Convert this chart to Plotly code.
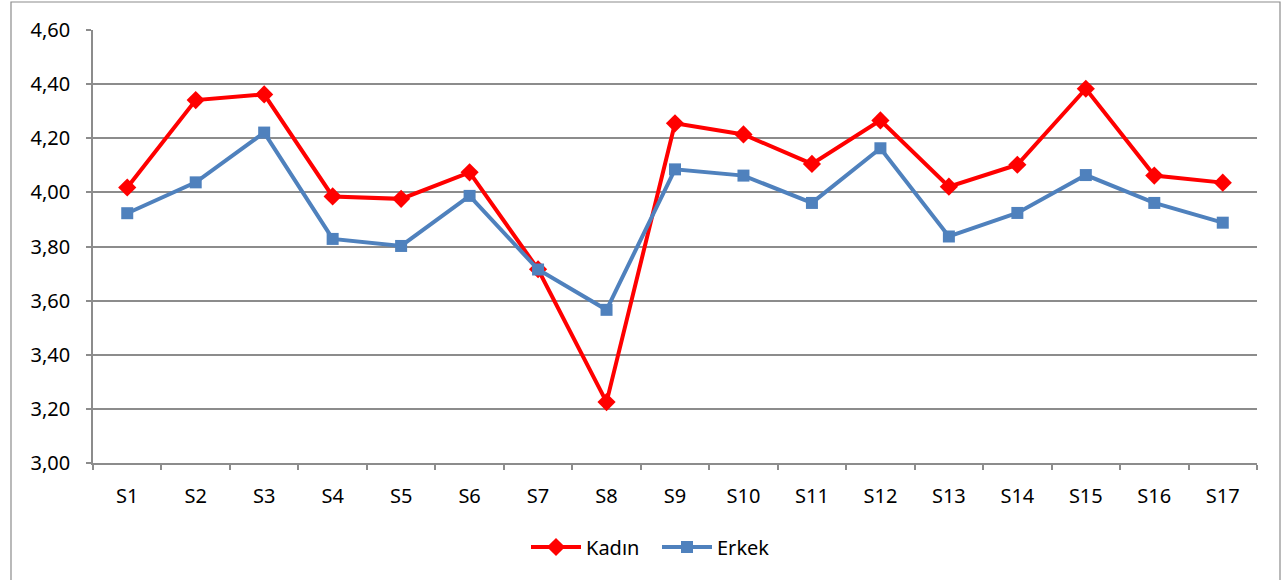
import plotly.graph_objects as go

categories = ["S1", "S2", "S3", "S4", "S5", "S6", "S7", "S8", "S9", "S10",
              "S11", "S12", "S13", "S14", "S15", "S16", "S17"]
kadin = [4.018, 4.341, 4.362, 3.985, 3.976, 4.074, 3.716, 3.225, 4.255, 4.214,
         4.105, 4.266, 4.021, 4.102, 4.383, 4.062, 4.036]
erkek = [3.923, 4.037, 4.221, 3.828, 3.802, 3.987, 3.715, 3.566, 4.085, 4.062,
         3.961, 4.163, 3.837, 3.924, 4.064, 3.961, 3.888]
y_ticks = [3.0, 3.2, 3.4, 3.6, 3.8, 4.0, 4.2, 4.4, 4.6]

FONT = "Noto Sans"
FS = 20
GRID = "#8c8c8c"

fig = go.Figure()
fig.add_trace(go.Scatter(
    x=categories, y=kadin, name="Kadın", mode="lines+markers",
    line=dict(color="#FF0000", width=4),
    marker=dict(symbol="diamond", size=14, color="#FF0000"),
))
fig.add_trace(go.Scatter(
    x=categories, y=erkek, name="Erkek", mode="lines+markers",
    line=dict(color="#4F81BD", width=4),
    marker=dict(symbol="square", size=12, color="#4F81BD"),
))

W, H = 1285, 580
L, R, T, B = 93, 1257, 30, 463          # plot area in page pixels
pw, ph = R - L, B - T

def px_x(p):
    return (p - L) / pw

def px_y(p):
    return (B - p) / ph

fig.update_layout(
    width=W, height=H,
    margin=dict(l=L, r=W - R, t=T, b=H - B, pad=0),
    paper_bgcolor="white", plot_bgcolor="white",
    separators=", ",
    font=dict(family=FONT, size=FS, color="#000000"),
    showlegend=True,
    legend=dict(
        orientation="h", x=px_x(657), xanchor="center",
        y=px_y(547), yanchor="middle",
        font=dict(family=FONT, size=FS, color="#000000"),
        itemwidth=50, tracegroupgap=0,
        entrywidth=66, entrywidthmode="pixels",
        bgcolor="rgba(0,0,0,0)",
    ),
    xaxis=dict(
        type="category", range=[-0.5, len(categories) - 0.5],
        showgrid=False, showline=True, linecolor=GRID, linewidth=1.5,
        ticks="outside", tickson="boundaries", ticklen=5, tickcolor=GRID,
        tickwidth=1.5, ticklabelstandoff=14,
        tickfont=dict(family=FONT, size=FS, color="#000000"),
        zeroline=False, fixedrange=True,
    ),
    yaxis=dict(
        range=[3.0, 4.6], tickvals=y_ticks, tickformat=".2f",
        showgrid=True, gridcolor=GRID, gridwidth=1.5,
        showline=True, linecolor=GRID, linewidth=1.5,
        ticks="outside", ticklen=5, tickcolor=GRID, tickwidth=1.5,
        ticklabelstandoff=12,
        tickfont=dict(family=FONT, size=FS, color="#000000"),
        zeroline=False, fixedrange=True,
    ),
    shapes=[dict(
        type="rect", xref="paper", yref="paper",
        x0=px_x(11), x1=px_x(1280), y0=px_y(590), y1=px_y(2),
        line=dict(color="#8c8c8c", width=1.2), fillcolor="rgba(0,0,0,0)",
        layer="below",
    )],
)

fig.write_html(
    "out.html",
    config={"displayModeBar": False},
    post_script="document.body.style.margin='0';document.body.style.overflow='hidden';",
)
